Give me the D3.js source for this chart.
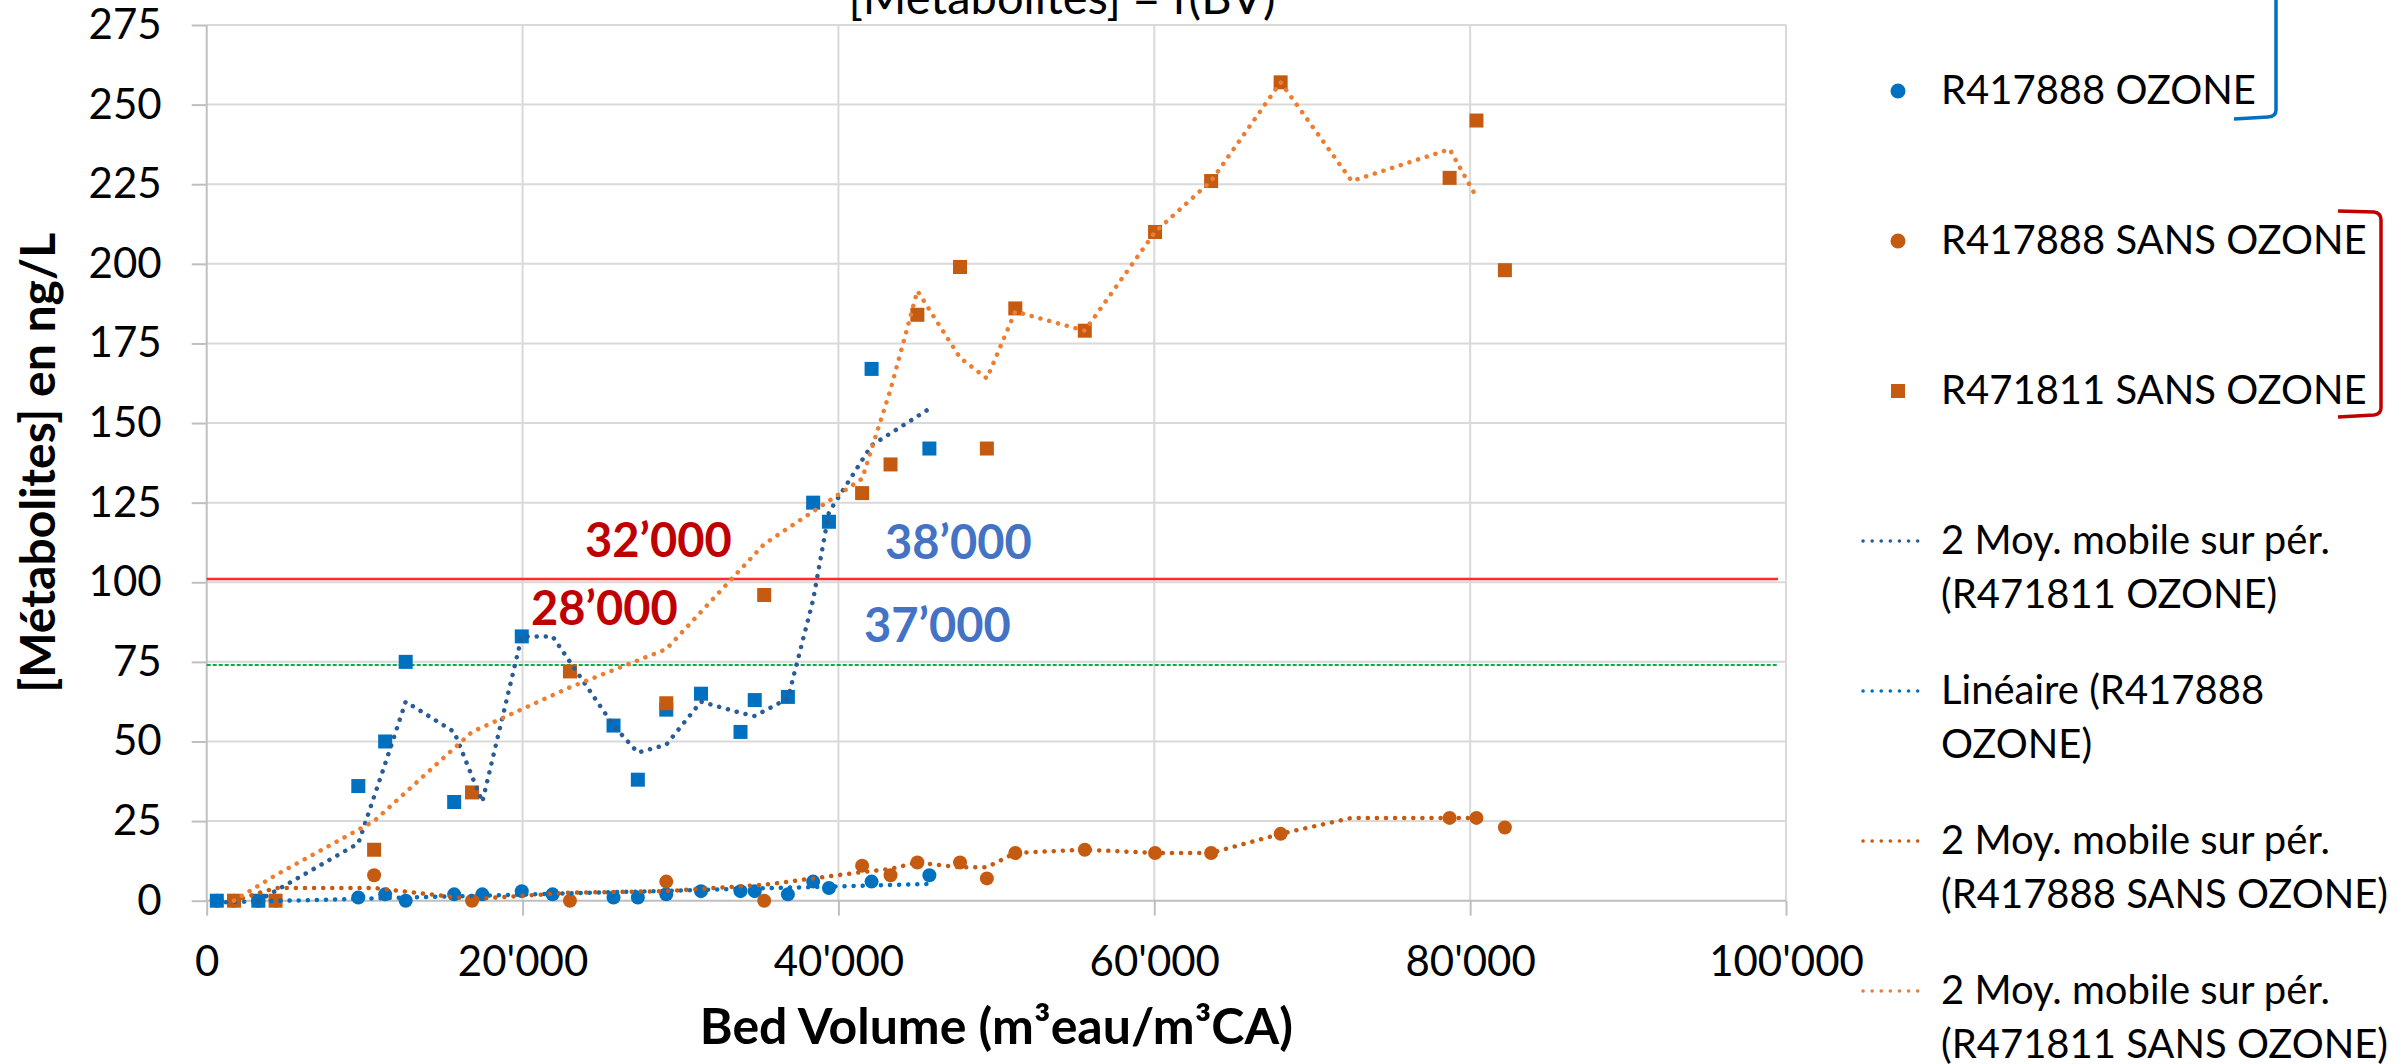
<!DOCTYPE html>
<html>
<head>
<meta charset="utf-8">
<script src="https://cdn.jsdelivr.net/npm/d3@7"></script>
<style>
  html, body { margin: 0; padding: 0; background: #ffffff; overflow: hidden; }
  text { font-family: Lato, "Open Sans", sans-serif; }
</style>
</head>
<body>
<svg id="chart" width="2399" height="1064"></svg>
<script>
// ---- Data -------------------------------------------------------------
// Bed volumes (m3 eau / m3 CA) of the ozone-fed filters
const bvOzone = [640, 3270, 9600, 11300, 12600, 15670, 17450, 19950, 21900, 25760,
                 27300, 29100, 31300, 33800, 34700, 36800, 38400, 39400, 42100, 45760];
// [Métabolites] ng/L — R471811 OZONE (blank where no analysis)
const r471811Ozone = [0, 0, 36, 50, 75, 31, null, 83, null, 55,
                      38, 60, 65, 53, 63, 64, 125, 119, 167, 142];
// [Métabolites] ng/L — R417888 OZONE
const r417888Ozone = [0, 0, 1, 2, 0, 2, 2, 3, 2, 1,
                      1, 2, 3, 3, 3, 2, 6, 4, 6, 8];

// Bed volumes of the filters without ozone
const bvSans = [1730, 4360, 10600, 16800, 23000, 29100, 35300, 41500, 43300, 45000,
                47700, 49400, 51200, 55600, 60050, 63600, 68000, 78700, 80400, 82200];
// R417888 SANS OZONE
const r417888Sans = [0, 0, 8, 0, 0, 6, 0, 11, 8, 12,
                     12, 7, 15, 16, 15, 15, 21, 26, 26, 23];
// R471811 SANS OZONE
const r471811Sans = [0, 0, 16, 34, 72, 62, 96, 128, 137, 184,
                     199, 142, 186, 179, 210, 226, 257, 227, 245, 198];

// 2-period moving averages (trendlines)
const maOzoneBv = [3270, 9600, 11300, 12600, 15670, 17450, 19950, 21900, 25760, 27300,
                   29100, 31300, 33800, 34700, 36800, 38400, 39400, 42100, 45760];
const maR471811Ozone = [0, 18, 43, 62.5, 53, 31, 83, 83, 55, 46.5,
                        49, 62.5, 59, 58, 63.5, 94.5, 122, 143, 154.5];
const maSansBv = [1730, 4360, 10600, 16800, 23000, 29100, 35300, 41500, 43300, 45000,
                  47700, 49400, 51200, 55600, 60050, 63600, 68000, 72500, 78700, 80400];
const maR417888Sans = [0, 4, 4, 0.5, 2.5, 3, 5, 9, 10, 12,
                       10.5, 10.5, 15, 16, 15, 15, 21, 26, 26, 26];
const maR471811Sans = [0, 8, 25, 53, 67, 79, 112, 132.5, 160.5, 191.5,
                       170.5, 164, 185, 179, 210, 226, 257, 226, 236, 221];

// Threshold lines (ng/L)
const limitRed = 101;
const limitGreen = 74;
const limitEndBv = 99500;

// Axis ticks
const xTicks = [0, 20000, 40000, 60000, 80000, 100000];
const xTickLabels = ["0", "20'000", "40'000", "60'000", "80'000", "100'000"];
const yTicks = [0, 25, 50, 75, 100, 125, 150, 175, 200, 225, 250, 275];

// Breakthrough annotations
const annotations = [
  { text: "32’000", x: 585, y: 557, color: "#C00000" },
  { text: "28’000", x: 531, y: 625, color: "#C00000" },
  { text: "38’000", x: 885, y: 559, color: "#4472C4" },
  { text: "37’000", x: 864, y: 642, color: "#4472C4" }
];

// Legend entries
const legendEntries = [
  { lines: ["R417888 OZONE"], kind: "circle", color: "#0070C0" },
  { lines: ["R417888 SANS OZONE"], kind: "circle", color: "#C55A11" },
  { lines: ["R471811 SANS OZONE"], kind: "square", color: "#C55A11" },
  { lines: ["2 Moy. mobile sur pér.", "(R471811 OZONE)"], kind: "line", color: "#2A5D96" },
  { lines: ["Linéaire (R417888", "OZONE)"], kind: "line", color: "#0070C0" },
  { lines: ["2 Moy. mobile sur pér.", "(R417888 SANS OZONE)"], kind: "line", color: "#C55A11" },
  { lines: ["2 Moy. mobile sur pér.", "(R471811 SANS OZONE)"], kind: "line", color: "#ED7D31" }
];

// ---- Layout -----------------------------------------------------------
const svg = d3.select("#chart");
svg.append("rect").attr("width", 2399).attr("height", 1064).attr("fill", "#ffffff");

const plot = { left: 206.7, right: 1786, top: 25, bottom: 900.7 };
const x = d3.scaleLinear().domain([0, 100000]).range([plot.left, plot.right]);
const y = d3.scaleLinear().domain([0, 275]).range([plot.bottom, plot.top]);

const gridColor = "#D9D9D9";
const axisColor = "#BFBFBF";

// Gridlines
svg.append("g").selectAll("line").data(yTicks.filter(v => v > 0)).join("line")
  .attr("x1", plot.left).attr("x2", plot.right)
  .attr("y1", d => y(d)).attr("y2", d => y(d))
  .attr("stroke", gridColor).attr("stroke-width", 2);
svg.append("g").selectAll("line").data(xTicks.filter(v => v > 0)).join("line")
  .attr("x1", d => x(d)).attr("x2", d => x(d))
  .attr("y1", plot.top).attr("y2", plot.bottom)
  .attr("stroke", gridColor).attr("stroke-width", 2);

// Axes
const yAxis = d3.axisLeft(y).tickValues(yTicks).tickSize(15).tickPadding(30)
  .tickFormat(d3.format("d"));
const gy = svg.append("g").attr("transform", `translate(${plot.left},0)`).call(yAxis);
const xAxis = d3.axisBottom(x).tickValues(xTicks).tickSize(15).tickPadding(30)
  .tickFormat((d, i) => xTickLabels[i]);
const gx = svg.append("g").attr("transform", `translate(0,${plot.bottom})`).call(xAxis);
[gx, gy].forEach(g => {
  g.select(".domain").attr("stroke", axisColor).attr("stroke-width", 2);
  g.selectAll(".tick line").attr("stroke", axisColor).attr("stroke-width", 2);
  g.selectAll(".tick text").attr("fill", "#000").style("font-size", "42px")
    .style("font-family", "Lato, 'Open Sans', sans-serif");
});
gy.select(".domain").attr("d", `M0,${plot.top}V${plot.bottom}`);
gx.select(".domain").attr("d", `M${plot.left},0H${plot.right}`);

// Threshold lines
svg.append("line")
  .attr("x1", x(0)).attr("x2", x(limitEndBv))
  .attr("y1", y(limitRed)).attr("y2", y(limitRed))
  .attr("stroke", "#FF2A2A").attr("stroke-width", 2.5);
svg.append("line")
  .attr("x1", x(0)).attr("x2", x(limitEndBv))
  .attr("y1", y(limitGreen)).attr("y2", y(limitGreen))
  .attr("stroke", "#00B050").attr("stroke-width", 2).attr("stroke-dasharray", "4 2");

// ---- Series markers ----------------------------------------------------
const zip = (xs, ys) => xs.map((v, i) => [v, ys[i]]).filter(d => d[1] !== null);

function squares(points, color) {
  svg.append("g").selectAll("rect").data(points).join("rect")
    .attr("x", d => x(d[0]) - 7).attr("y", d => y(d[1]) - 7)
    .attr("width", 14).attr("height", 14).attr("fill", color);
}
function circles(points, color) {
  svg.append("g").selectAll("circle").data(points).join("circle")
    .attr("cx", d => x(d[0])).attr("cy", d => y(d[1])).attr("r", 7).attr("fill", color);
}

squares(zip(bvOzone, r471811Ozone), "#0070C0");
circles(zip(bvOzone, r417888Ozone), "#0070C0");
circles(zip(bvSans, r417888Sans), "#C55A11");
squares(zip(bvSans, r471811Sans), "#C55A11");

// ---- Trendlines ---------------------------------------------------------
const line = d3.line().x(d => x(d[0])).y(d => y(d[1]));
function dotted(points, color) {
  svg.append("path").datum(points).attr("d", line)
    .attr("fill", "none").attr("stroke", color).attr("stroke-width", 4.5)
    .attr("stroke-linecap", "round").attr("stroke-dasharray", "0.1 9");
}

// Linear least-squares fit of R417888 OZONE
const pts = zip(bvOzone, r417888Ozone);
const mx = d3.mean(pts, d => d[0]), my = d3.mean(pts, d => d[1]);
const slope = d3.sum(pts, d => (d[0] - mx) * (d[1] - my)) / d3.sum(pts, d => (d[0] - mx) ** 2);
const intercept = my - slope * mx;
const [xMin, xMax] = d3.extent(pts, d => d[0]);

dotted(zip(maOzoneBv, maR471811Ozone), "#2A5D96");
dotted([[xMin, intercept + slope * xMin], [xMax, intercept + slope * xMax]], "#0070C0");
dotted(zip(maSansBv, maR417888Sans), "#C55A11");
dotted(zip(maSansBv, maR471811Sans), "#ED7D31");

// ---- Titles ------------------------------------------------------------
svg.append("text").attr("x", 1062).attr("y", 14).attr("text-anchor", "middle")
  .style("font-size", "47px").attr("fill", "#000").text("[Métabolites] = f(BV)");
svg.append("text").attr("x", (plot.left + plot.right) / 2).attr("y", 1044)
  .attr("text-anchor", "middle").style("font-size", "50px").style("font-weight", "bold")
  .attr("fill", "#000").text("Bed Volume (m³eau/m³CA)");
svg.append("text").attr("transform", `translate(55,${(plot.top + plot.bottom) / 2}) rotate(-90)`)
  .attr("text-anchor", "middle").style("font-size", "48px").style("font-weight", "bold")
  .attr("fill", "#000").text("[Métabolites] en ng/L");

// Annotations
svg.append("g").selectAll("text").data(annotations).join("text")
  .attr("x", d => d.x).attr("y", d => d.y).attr("fill", d => d.color)
  .style("font-size", "47px").style("font-weight", "bold").text(d => d.text);

// ---- Legend ------------------------------------------------------------
const lg = svg.append("g");
legendEntries.forEach((e, i) => {
  const base = 104 + i * 150;
  const my = base - 13;
  if (e.kind === "circle") {
    lg.append("circle").attr("cx", 1898).attr("cy", my).attr("r", 7.5).attr("fill", e.color);
  } else if (e.kind === "square") {
    lg.append("rect").attr("x", 1891).attr("y", my - 7).attr("width", 14).attr("height", 14)
      .attr("fill", e.color);
  } else {
    lg.append("line").attr("x1", 1863).attr("x2", 1926).attr("y1", my).attr("y2", my)
      .attr("stroke", e.color).attr("stroke-width", 3.5).attr("stroke-linecap", "round")
      .attr("stroke-dasharray", "0.1 9");
  }
  e.lines.forEach((t, j) => {
    lg.append("text").attr("x", 1941).attr("y", base + j * 54)
      .style("font-size", "40px").attr("fill", "#000").text(t);
  });
});

// Group brackets next to the legend
svg.append("path")
  .attr("d", "M2234,119 L2268,117 Q2276,116.5 2276,110 L2276,-5")
  .attr("fill", "none").attr("stroke", "#0070C0").attr("stroke-width", 3.5);
svg.append("path")
  .attr("d", "M2338,211 L2374,212 Q2381,213 2381,220 L2381,408 Q2381,414 2374,415 L2338,417")
  .attr("fill", "none").attr("stroke", "#C00000").attr("stroke-width", 3.5);
</script>
</body>
</html>
